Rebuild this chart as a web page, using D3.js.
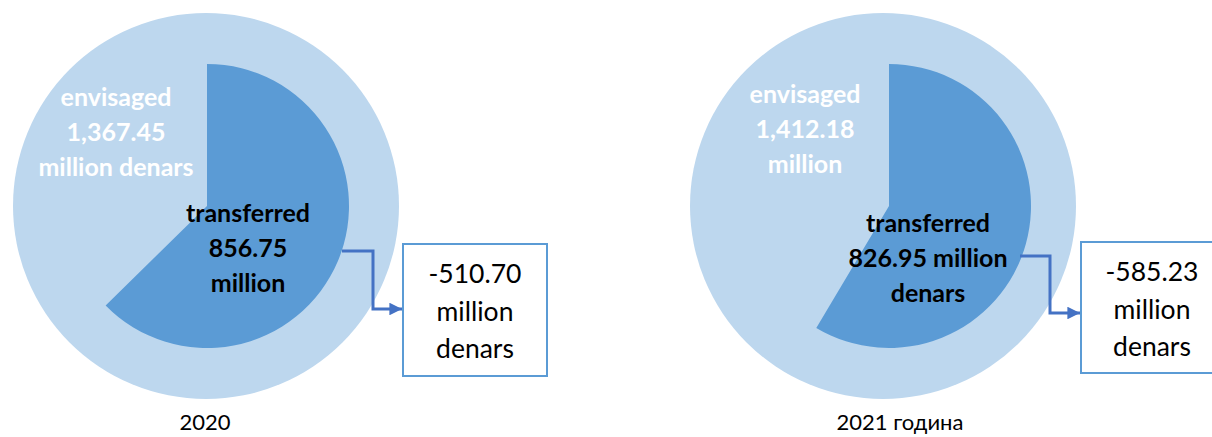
<!DOCTYPE html>
<html>
<head>
<meta charset="utf-8">
<script src="https://cdn.jsdelivr.net/npm/d3@7"></script>
<style>
  html, body { margin: 0; padding: 0; background: #fff; }
  svg { display: block; }
  text { font-family: Lato, "Open Sans", sans-serif; }
</style>
</head>
<body>
<svg id="chart" width="1212" height="437"></svg>
<script>
// Budget: envisaged vs transferred, in million denars
const years = ["2020", "2021 година"];
const envisaged = [1367.45, 1412.18];
const transferred = [856.75, 826.95];
const envisagedLabels = [
  ["envisaged", "1,367.45", "million denars"],
  ["envisaged", "1,412.18", "million"]
];
const transferredLabels = [
  ["transferred", "856.75", "million"],
  ["transferred", "826.95 million", "denars"]
];

const svg = d3.select("#chart");
const fmt = d3.format(",.2f");

svg.append("defs").append("marker")
  .attr("id", "arrowHead")
  .attr("viewBox", "0 0 10 10")
  .attr("refX", 10).attr("refY", 5)
  .attr("markerWidth", 4.2).attr("markerHeight", 4.2)
  .attr("markerUnits", "strokeWidth")
  .attr("orient", "auto")
  .append("path").attr("d", "M0,0 L10,5 L0,10 Z").attr("fill", "#4472c4");

// Layout of each panel
const panels = [
  { cx: 206, cy: 206, ix: 207, env: { x: 116, y: 106 }, tr: { x: 248, y: 222 },
    box: { x: 403, y: 244, w: 144, h: 132 }, boxTextX: 475,
    conn: { x0: 342, y0: 251, xm: 373, y1: 309 },
    year: { x: 205, y: 430 } },
  { cx: 883, cy: 206, ix: 889, env: { x: 805, y: 103 }, tr: { x: 928, y: 232 },
    box: { x: 1081, y: 242, w: 142, h: 131 }, boxTextX: 1152,
    conn: { x0: 1020, y0: 256, xm: 1050, y1: 313 },
    year: { x: 900, y: 430 } }
];

const outerR = 193, innerR = 142, lineH = 35;

years.forEach((yr, i) => {
  const p = panels[i];
  const g = svg.append("g");

  // share of the envisaged amount that was transferred
  const angle = d3.scaleLinear().domain([0, envisaged[i]]).range([0, 2 * Math.PI]);

  g.append("path")
    .attr("transform", `translate(${p.cx},${p.cy})`)
    .attr("d", d3.arc().innerRadius(0).outerRadius(outerR)
      ({ startAngle: 0, endAngle: angle(envisaged[i]) }))
    .attr("fill", "#bdd7ee");

  g.append("path")
    .attr("transform", `translate(${p.ix},${p.cy})`)
    .attr("d", d3.arc().innerRadius(0).outerRadius(innerR)
      ({ startAngle: 0, endAngle: angle(transferred[i]) }))
    .attr("fill", "#5b9bd5");

  const envText = g.append("text")
    .attr("text-anchor", "middle")
    .attr("fill", "#ffffff")
    .attr("font-weight", "bold")
    .attr("font-size", 25);
  envisagedLabels[i].forEach((t, k) => {
    envText.append("tspan").attr("x", p.env.x).attr("y", p.env.y + k * lineH).text(t);
  });

  const trText = g.append("text")
    .attr("text-anchor", "middle")
    .attr("fill", "#000000")
    .attr("font-weight", "bold")
    .attr("font-size", 25);
  transferredLabels[i].forEach((t, k) => {
    trText.append("tspan").attr("x", p.tr.x).attr("y", p.tr.y + k * lineH).text(t);
  });

  // elbow connector into the difference box
  const c = p.conn;
  g.append("path")
    .attr("d", d3.line()([[c.x0, c.y0], [c.xm, c.y0], [c.xm, c.y1], [p.box.x - 1, c.y1]]))
    .attr("fill", "none")
    .attr("stroke", "#4472c4")
    .attr("stroke-width", 3)
    .attr("marker-end", "url(#arrowHead)");

  g.append("rect")
    .attr("x", p.box.x).attr("y", p.box.y)
    .attr("width", p.box.w).attr("height", p.box.h)
    .attr("fill", "#ffffff")
    .attr("stroke", "#5b9bd5")
    .attr("stroke-width", 2);

  const diff = transferred[i] - envisaged[i];
  const boxLines = [fmt(diff).replace("−", "-"), "million", "denars"];
  const boxText = g.append("text")
    .attr("text-anchor", "middle")
    .attr("fill", "#000000")
    .attr("font-size", 26.5);
  boxLines.forEach((t, k) => {
    boxText.append("tspan")
      .attr("x", p.boxTextX)
      .attr("y", p.box.y + 39 + k * 37.5)
      .text(t);
  });

  g.append("text")
    .attr("x", p.year.x).attr("y", p.year.y)
    .attr("text-anchor", "middle")
    .attr("fill", "#000000")
    .attr("font-size", 22)
    .text(yr);
});
</script>
</body>
</html>
